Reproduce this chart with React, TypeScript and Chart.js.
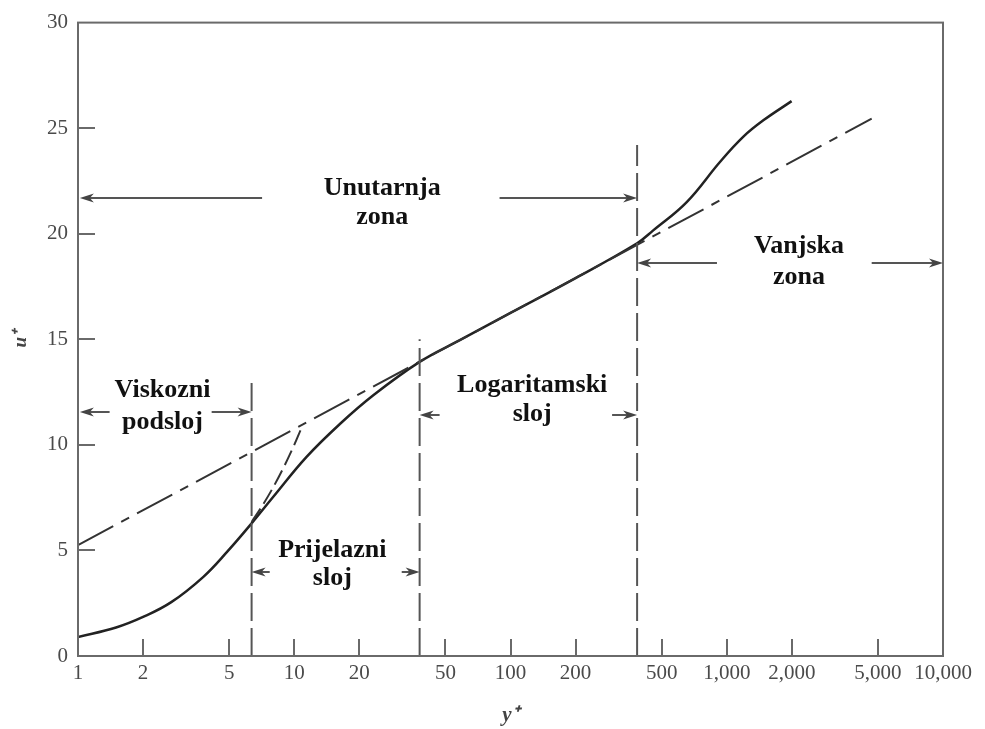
import React, { useEffect, useRef } from "react";
import { Chart, registerables } from "chart.js";

Chart.register(...registerables);

// Axis ticks
const xTickValues = [1, 2, 5, 10, 20, 50, 100, 200, 500, 1000, 2000, 5000, 10000];
const yTickValues = [0, 5, 10, 15, 20, 25, 30];

// Measured velocity profile (solid)
const profileYPlus = [1, 1.5, 2, 2.7, 3.8, 4.9, 6.35, 8, 11.4, 16.3, 23.2, 38, 58, 100, 200, 385, 457, 653, 930, 1194, 1476, 1995];
const profileUPlus = [0.9, 1.35, 1.85, 2.55, 3.75, 4.94, 6.28, 7.54, 9.43, 11.0, 12.35, 13.93, 14.95, 16.25, 17.9, 19.55, 20.16, 21.5, 23.4, 24.6, 25.37, 26.28];

// Log law (dash-dot)
const logLawYPlus = [1, 10, 100, 1000, 4680];
const logLawUPlus = [5.25, 10.75, 16.25, 21.75, 25.45];

// Viscous sublayer law u+ = y+ (dashed), extended
const viscousYPlus = [6.35, 7, 8, 9, 10, 10.8];
const viscousUPlus = [6.35, 7, 8, 9, 10, 10.8];

// Zone boundaries (vertical dashed)
const boundaryYPlus = [6.35, 38, 385];
const boundaryTopUPlus = [13.2, 15.0, 24.2];

// Zone annotations
const zoneNames = [
  ["Unutarnja", "zona"],
  ["Viskozni", "podsloj"],
  ["Prijelazni", "sloj"],
  ["Logaritamski", "sloj"],
  ["Vanjska", "zona"],
];
const zoneArrowUPlus = [21.68, 11.56, 3.99, 11.4, 18.6];
// [left tip, left segment end, right segment start, right tip] in y+
const zoneArrowYPlus = [
  [1.02, 7.1, 89, 385],
  [1.02, 1.4, 4.15, 6.35],
  [6.35, 7.7, 31.4, 38],
  [38, 47, 295, 385],
  [385, 901, 4680, 10000],
];
const zoneLabelYPlus = [25.5, 2.46, 15.0, 126, 2158];
const zoneLabelUPlus = [
  [22.15, 20.78],
  [12.59, 11.07],
  [5.02, 3.69],
  [12.83, 11.45],
  [19.42, 17.95],
];

const toPoints = (xs: number[], ys: number[]) => xs.map((x, i) => ({ x, y: ys[i] }));

function drawArrowHead(ctx: CanvasRenderingContext2D, tipX: number, yy: number, dir: number) {
  const len = 14;
  const half = 4.5;
  ctx.beginPath();
  ctx.moveTo(tipX, yy);
  ctx.lineTo(tipX - dir * len, yy - half);
  ctx.lineTo(tipX - dir * (len - 4), yy);
  ctx.lineTo(tipX - dir * len, yy + half);
  ctx.closePath();
  ctx.fill();
}

const annotationPlugin = {
  id: "annotations",
  afterDatasetsDraw(chart: any) {
    const { ctx, chartArea: a, scales } = chart;
    const xs = scales.x;
    const ys = scales.y;
    ctx.save();
    // frame
    ctx.strokeStyle = "#6a6a6a";
    ctx.lineWidth = 2;
    ctx.setLineDash([]);
    ctx.strokeRect(a.left, a.top, a.right - a.left, a.bottom - a.top);
    // inward ticks
    ctx.beginPath();
    xTickValues.forEach((v) => {
      if (v === xTickValues[0] || v === xTickValues[xTickValues.length - 1]) return;
      const px = Math.round(xs.getPixelForValue(v));
      ctx.moveTo(px, a.bottom);
      ctx.lineTo(px, a.bottom - 17);
    });
    yTickValues.forEach((v) => {
      if (v === yTickValues[0] || v === yTickValues[yTickValues.length - 1]) return;
      const py = Math.round(ys.getPixelForValue(v));
      ctx.moveTo(a.left, py);
      ctx.lineTo(a.left + 17, py);
    });
    ctx.stroke();

    // arrows
    ctx.strokeStyle = "#555";
    ctx.fillStyle = "#444";
    ctx.lineWidth = 2;
    zoneArrowYPlus.forEach((seg, i) => {
      const yy = Math.round(ys.getPixelForValue(zoneArrowUPlus[i]));
      const p = seg.map((v) => xs.getPixelForValue(v));
      ctx.beginPath();
      ctx.moveTo(p[0] + 6, yy);
      ctx.lineTo(p[1], yy);
      ctx.moveTo(p[2], yy);
      ctx.lineTo(p[3] - 6, yy);
      ctx.stroke();
      drawArrowHead(ctx, p[0], yy, -1);
      drawArrowHead(ctx, p[3], yy, 1);
    });

    // labels
    ctx.fillStyle = "#111";
    ctx.font = 'bold 26px "Liberation Serif", "Times New Roman", serif';
    ctx.textAlign = "center";
    ctx.textBaseline = "middle";
    zoneNames.forEach((lines, i) => {
      const px = xs.getPixelForValue(zoneLabelYPlus[i]);
      lines.forEach((t, j) => {
        ctx.fillText(t, px, ys.getPixelForValue(zoneLabelUPlus[i][j]));
      });
    });
    ctx.restore();
  },
};

export default function App() {
  const ref = useRef<HTMLCanvasElement | null>(null);
  useEffect(() => {
    if (!ref.current) return;
    const boundarySets = boundaryYPlus.map((b, i) => ({
      label: "boundary" + i,
      data: [
        { x: b, y: 0 },
        { x: b, y: boundaryTopUPlus[i] },
      ],
      borderColor: "#555",
      borderWidth: 2,
      borderDash: [28, 7],
      pointRadius: 0,
      tension: 0,
    }));
    const chart = new Chart(ref.current, {
      type: "line",
      data: {
        datasets: [
          ...boundarySets,
          {
            label: "log",
            data: toPoints(logLawYPlus, logLawUPlus),
            borderColor: "#333",
            borderWidth: 2,
            borderDash: [40, 9, 9, 9],
            pointRadius: 0,
            tension: 0,
          },
          {
            label: "viscous",
            data: toPoints(viscousYPlus, viscousUPlus),
            borderColor: "#333",
            borderWidth: 2,
            borderDash: [16, 6],
            pointRadius: 0,
            cubicInterpolationMode: "monotone",
          },
          {
            label: "profile",
            data: toPoints(profileYPlus, profileUPlus),
            borderColor: "#222",
            borderWidth: 2.5,
            pointRadius: 0,
            tension: 0.4,
          },
        ],
      },
      options: {
        responsive: false,
        animation: false,
        devicePixelRatio: 1,
        layout: { padding: { left: 0, right: 42, top: 22, bottom: 0 } },
        plugins: {
          legend: { display: false },
          tooltip: { enabled: false },
        },
        scales: {
          x: {
            type: "logarithmic",
            min: 1,
            max: 10000,
            afterBuildTicks: (scale: any) => {
              scale.ticks = xTickValues.map((v) => ({ value: v }));
            },
            afterFit: (scale: any) => {
              scale.height = 73;
            },
            grid: { display: false, drawTicks: false },
            border: { display: false },
            ticks: {
              autoSkip: false,
              maxRotation: 0,
              minRotation: 0,
              padding: 5,
              color: "#4a4a4a",
              font: { family: '"Liberation Serif", serif', size: 21 },
              callback: (v: any) => Number(v).toLocaleString("en-US"),
            },
            title: {
              display: true,
              text: "y⁺",
              color: "#444",
              padding: { top: 0, bottom: 3 },
              font: { family: '"Liberation Serif", serif', size: 21, style: "italic", weight: "bold", lineHeight: 1 },
            },
          },
          y: {
            type: "linear",
            min: 0,
            max: 30,
            afterBuildTicks: (scale: any) => {
              scale.ticks = yTickValues.map((v) => ({ value: v }));
            },
            afterFit: (scale: any) => {
              scale.width = 78;
            },
            grid: { display: false, drawTicks: false },
            border: { display: false },
            ticks: {
              padding: 10,
              color: "#4a4a4a",
              font: { family: '"Liberation Serif", serif', size: 21 },
            },
            title: {
              display: true,
              text: "u⁺",
              color: "#444",
              padding: { top: 12, bottom: 0 },
              font: { family: '"Liberation Serif", serif', size: 19, style: "italic", weight: "bold", lineHeight: 1 },
            },
          },
        },
      },
      plugins: [annotationPlugin],
    } as any);
    return () => chart.destroy();
  }, []);
  return (
    <div style={{ position: "absolute", left: 0, top: 0, width: 985, height: 729, background: "#fff" }}>
      <canvas ref={ref} width={985} height={729} />
    </div>
  );
}
